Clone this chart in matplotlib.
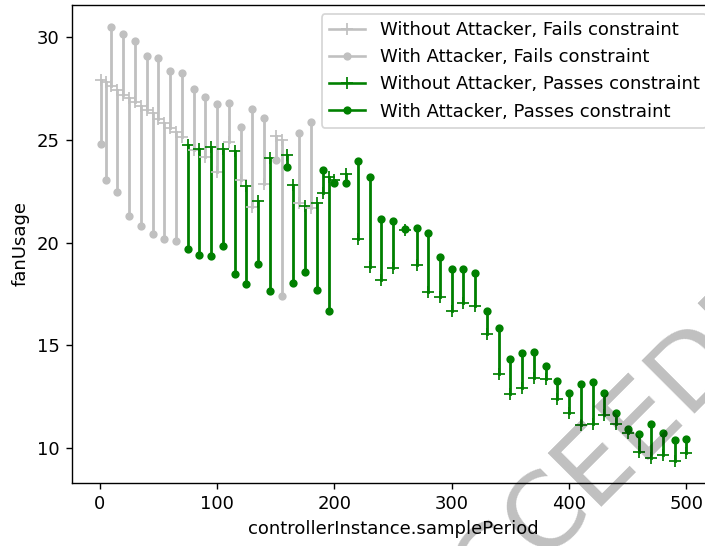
import matplotlib
matplotlib.use("Agg")
import matplotlib.pyplot as plt
from matplotlib.lines import Line2D

plt.rcParams["font.size"] = 10.4

# controllerInstance.samplePeriod values
sample_period = [1, 5, 10, 15, 20, 25, 30, 35, 40, 45, 50, 55, 60, 65, 70,
                 75, 80, 85, 90, 95, 100, 105, 110, 115, 120, 125, 130, 135,
                 140, 145, 150, 155, 160, 165, 170, 175, 180, 185, 190, 195,
                 200, 210, 220, 230, 240, 250, 260, 270, 280, 290, 300, 310,
                 320, 330, 340, 350, 360, 370, 380, 390, 400, 410, 420, 430,
                 440, 450, 460, 470, 480, 490, 500]

fan_without = [27.92, 27.81, 27.60, 27.44, 27.20, 27.05, 26.84, 26.63, 26.47,
               26.28, 26.03, 25.82, 25.58, 25.38, 25.14,
               24.74, 24.50, 24.55, 24.17, 24.66, 23.45, 24.53, 24.90, 24.46,
               23.04, 22.75, 21.75, 22.02, 22.83, 24.09, 25.20, 24.98, 24.25,
               22.80, 21.91, 21.78, 21.67, 21.91, 22.43, 23.17,
               23.04, 23.32, 20.18, 18.79, 18.19, 18.76, 20.62, 18.89, 17.58,
               17.34, 16.69, 17.06, 16.93, 15.53, 13.62, 12.62, 12.94, 13.43,
               13.38, 12.41, 11.73, 11.11, 11.16, 11.60, 11.16, 10.73, 9.82,
               9.50, 9.66, 9.38, 9.76]

fan_with = [24.77, 23.03, 30.49, 22.48, 30.14, 21.31, 29.78, 20.81, 29.09,
            20.41, 28.97, 20.17, 28.33, 20.07, 28.23,
            19.71, 27.47, 19.40, 27.07, 19.36, 26.73, 19.84, 26.78, 18.47,
            25.63, 17.97, 26.50, 18.95, 26.08, 17.65, 24.01, 17.40, 23.69,
            18.05, 25.34, 18.55, 25.87, 17.71, 23.53, 16.66,
            22.91, 22.88, 23.96, 23.20, 21.17, 21.07, 20.66, 20.73, 20.47,
            19.31, 18.70, 18.72, 18.50, 16.66, 15.85, 14.36, 14.61, 14.69,
            13.99, 13.26, 12.70, 13.14, 13.21, 12.70, 11.73, 10.92, 10.68,
            11.16, 10.76, 10.40, 10.44]

passes = [False] * 15 + [True, False, True, False, True, False, True, False,
                         True, False, True, False, True, False, True, False,
                         False, True, True, False, True, False, True, True,
                         True] + [True] * 31

FAIL_COLOR = "silver"
PASS_COLOR = "green"

fig = plt.figure(figsize=(705 / 125, 546 / 125), dpi=125)
ax = fig.add_axes([0.1016, 0.1161, 0.9135, 0.8744])

for x, w, a, ok in zip(sample_period, fan_without, fan_with, passes):
    c = PASS_COLOR if ok else FAIL_COLOR
    ax.plot([x, x], [w, a], color=c, lw=1.6)
    ax.plot([x], [w], marker="+", color=c, ls="none", ms=6.5)
    ax.plot([x], [a], marker=".", color=c, ls="none", ms=7.5)

ax.set_xlabel("controllerInstance.samplePeriod")
ax.set_ylabel("fanUsage")

handles = [
    Line2D([], [], color=FAIL_COLOR, marker="+", ms=6.5, label="Without Attacker, Fails constraint"),
    Line2D([], [], color=FAIL_COLOR, marker=".", ms=7.5, label="With Attacker, Fails constraint"),
    Line2D([], [], color=PASS_COLOR, marker="+", ms=6.5, label="Without Attacker, Passes constraint"),
    Line2D([], [], color=PASS_COLOR, marker=".", ms=7.5, label="With Attacker, Passes constraint"),
]
ax.legend(handles=handles, loc="upper right")

# watermark
fig.text(0.848, 0.150, "SUCCEEDED", fontsize=60, color="black", alpha=0.25,
         rotation=45, ha="center", va="center", rotation_mode="anchor",
         zorder=10)

fig.savefig("out.png", dpi=125)
